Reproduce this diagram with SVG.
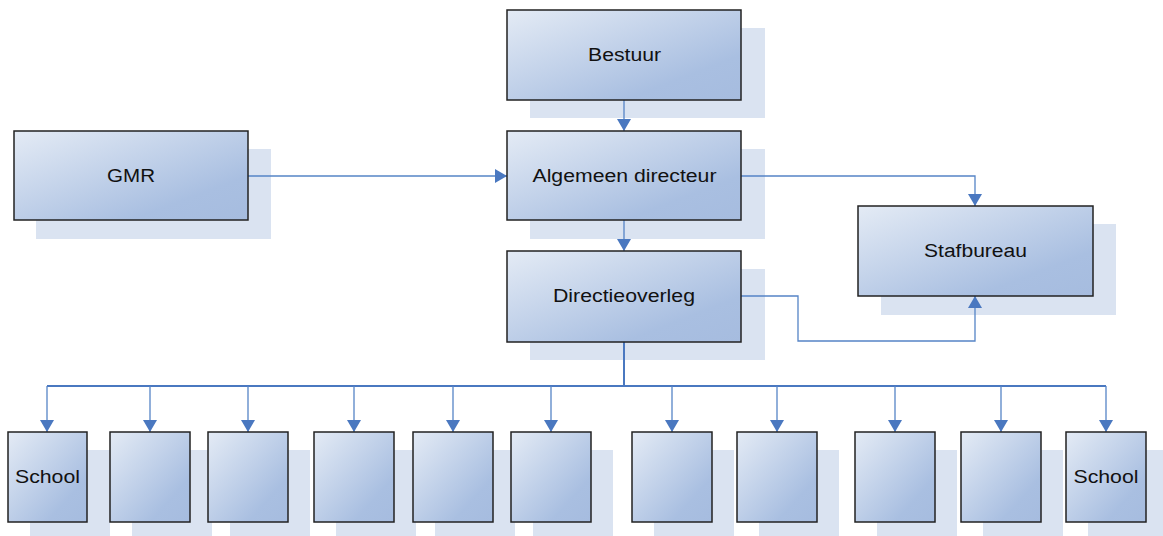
<svg xmlns="http://www.w3.org/2000/svg" width="1163" height="536" viewBox="0 0 1163 536">
<defs>
<linearGradient id="g" x1="0" y1="0" x2="1" y2="1">
<stop offset="0" stop-color="#e4ebf5"/>
<stop offset="0.75" stop-color="#a9bfe1"/>
<stop offset="1" stop-color="#a6bcdf"/>
</linearGradient>
<marker id="ah" markerWidth="12" markerHeight="14" viewBox="0 0 12 14" refX="12" refY="7" orient="auto" markerUnits="userSpaceOnUse">
<path d="M0,0 L12,7 L0,14 Z" fill="#4a78c0"/>
</marker>
<style>
.sh{fill:#dae3f1}
.bx{fill:url(#g);stroke:#222;stroke-width:1.5}
.t{font-family:"Liberation Sans",Arial,sans-serif;font-size:18px;fill:#111;text-anchor:middle}
.c{fill:none;stroke:#5584c6;stroke-width:1.3}
.c2{fill:none;stroke:#4a78c0;stroke-width:2}
</style>
</defs>
<g id="shadows">
<rect class="sh" x="530" y="28" width="235" height="90"/>
<rect class="sh" x="36" y="149" width="235" height="90"/>
<rect class="sh" x="530" y="149" width="235" height="90"/>
<rect class="sh" x="530" y="269" width="235" height="91"/>
<rect class="sh" x="881" y="224" width="235" height="91"/>
<rect class="sh" x="30" y="450" width="80" height="90"/>
<rect class="sh" x="132" y="450" width="80" height="90"/>
<rect class="sh" x="230" y="450" width="80" height="90"/>
<rect class="sh" x="336" y="450" width="80" height="90"/>
<rect class="sh" x="435" y="450" width="80" height="90"/>
<rect class="sh" x="533" y="450" width="80" height="90"/>
<rect class="sh" x="654" y="450" width="80" height="90"/>
<rect class="sh" x="759" y="450" width="80" height="90"/>
<rect class="sh" x="877" y="450" width="80" height="90"/>
<rect class="sh" x="983" y="450" width="80" height="90"/>
<rect class="sh" x="1088" y="450" width="80" height="90"/>
</g>
<g id="connectors">
<path class="c" d="M624,100 V131" marker-end="url(#ah)"/>
<path class="c" d="M248,176 H507" marker-end="url(#ah)"/>
<path class="c" d="M624,220 V251" marker-end="url(#ah)"/>
<path class="c" d="M741,176 H975 V206" marker-end="url(#ah)"/>
<path class="c" d="M741,296 H798 V341 H975 V296" marker-end="url(#ah)"/>
<path class="c2" d="M624,342 V386"/>
<path class="c2" d="M47,386 H1106"/>
<path class="c" d="M47,386 V432" marker-end="url(#ah)"/>
<path class="c" d="M150,386 V432" marker-end="url(#ah)"/>
<path class="c" d="M248,386 V432" marker-end="url(#ah)"/>
<path class="c" d="M354,386 V432" marker-end="url(#ah)"/>
<path class="c" d="M453,386 V432" marker-end="url(#ah)"/>
<path class="c" d="M551,386 V432" marker-end="url(#ah)"/>
<path class="c" d="M672,386 V432" marker-end="url(#ah)"/>
<path class="c" d="M777,386 V432" marker-end="url(#ah)"/>
<path class="c" d="M895,386 V432" marker-end="url(#ah)"/>
<path class="c" d="M1001,386 V432" marker-end="url(#ah)"/>
<path class="c" d="M1106,386 V432" marker-end="url(#ah)"/>
</g>
<g id="bestuur"><rect class="bx" x="507" y="10" width="234" height="90"/><text class="t" x="624.5" y="61" textLength="73" lengthAdjust="spacingAndGlyphs">Bestuur</text></g>
<g id="gmr"><rect class="bx" x="14" y="131" width="234" height="89"/><text class="t" x="131" y="182" textLength="48" lengthAdjust="spacingAndGlyphs">GMR</text></g>
<g id="algemeen-directeur"><rect class="bx" x="507" y="131" width="234" height="89"/><text class="t" x="624.5" y="182" textLength="184" lengthAdjust="spacingAndGlyphs">Algemeen directeur</text></g>
<g id="directieoverleg"><rect class="bx" x="507" y="251" width="234" height="91"/><text class="t" x="624" y="302" textLength="142" lengthAdjust="spacingAndGlyphs">Directieoverleg</text></g>
<g id="stafbureau"><rect class="bx" x="858" y="206" width="235" height="90"/><text class="t" x="975.5" y="257" textLength="103" lengthAdjust="spacingAndGlyphs">Stafbureau</text></g>
<g id="school1"><rect class="bx" x="8" y="432" width="79" height="90"/><text class="t" x="47.5" y="483" textLength="65" lengthAdjust="spacingAndGlyphs">School</text></g>
<g id="school2"><rect class="bx" x="110" y="432" width="80" height="90"/></g>
<g id="school3"><rect class="bx" x="208" y="432" width="80" height="90"/></g>
<g id="school4"><rect class="bx" x="314" y="432" width="80" height="90"/></g>
<g id="school5"><rect class="bx" x="413" y="432" width="80" height="90"/></g>
<g id="school6"><rect class="bx" x="511" y="432" width="80" height="90"/></g>
<g id="school7"><rect class="bx" x="632" y="432" width="80" height="90"/></g>
<g id="school8"><rect class="bx" x="737" y="432" width="80" height="90"/></g>
<g id="school9"><rect class="bx" x="855" y="432" width="80" height="90"/></g>
<g id="school10"><rect class="bx" x="961" y="432" width="80" height="90"/></g>
<g id="school11"><rect class="bx" x="1066" y="432" width="80" height="90"/><text class="t" x="1106" y="483" textLength="65" lengthAdjust="spacingAndGlyphs">School</text></g>
</svg>
